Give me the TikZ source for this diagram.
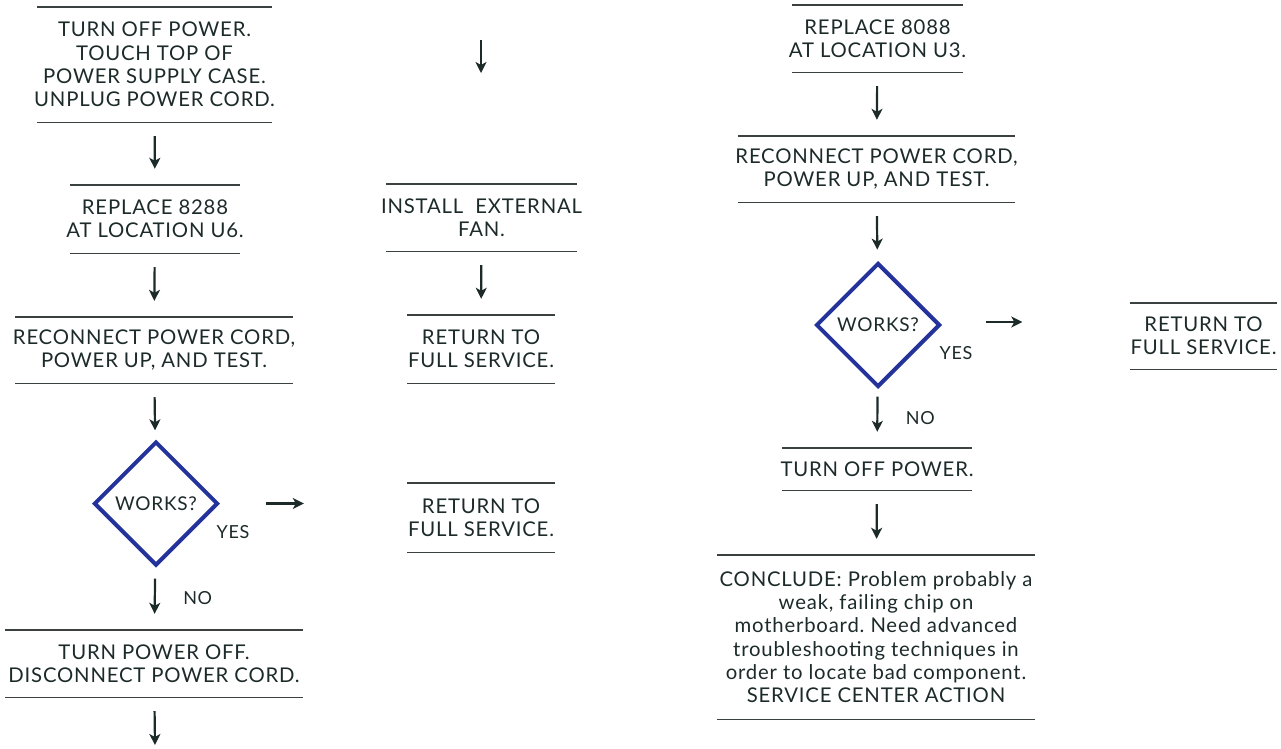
\documentclass[tikz,border=0pt]{standalone}
\usepackage{fontspec}
\setmainfont[LetterSpace=4]{Lato}
\usepackage{tikz}
\usetikzlibrary{arrows.meta,positioning,shapes.geometric}
\definecolor{ink}{HTML}{1C2A29}
\definecolor{rulegray}{HTML}{3B4140}
\definecolor{decblue}{HTML}{24339B}
\frenchspacing

\begin{document}
\begin{tikzpicture}[x=1pt,y=-1pt,>={Stealth[length=11pt,width=11pt,inset=3pt]},
  font=\fontsize{20.3}{23.3}\selectfont,text=ink,
  stepbox/.style={align=center,inner sep=0pt},
  link/.style={->,line width=2.2pt,draw=ink,shorten <=14pt,shorten >=16pt},
  test/.style={diamond,draw=decblue,line width=4pt,minimum width=124pt,
    minimum height=124pt,inner sep=0pt,font=\fontsize{19}{20}\selectfont},
  answer/.style={font=\fontsize{18}{20}\selectfont},
  rule/.style={draw=rulegray,line width=1.4pt}]
  \useasboundingbox (0,0) rectangle (1281,748);
  % Left column: first chip swap.
  \node[stepbox,minimum height=115pt] (off1) at (154.5,64.5)
    {TURN OFF POWER.\\TOUCH TOP OF\\POWER SUPPLY CASE.\\UNPLUG POWER CORD.};
  \node[stepbox,minimum height=68pt] (rep1) at (155,219)
    {REPLACE 8288\\AT LOCATION U6.};
  \node[stepbox,minimum height=66pt] (test1) at (154,350)
    {RECONNECT POWER CORD,\\POWER UP, AND TEST.};
  \node[test] (works1) at (156,503.5) {WORKS?};
  \node[answer] (yes1) at ([xshift=13pt,yshift=-29pt]works1.east) {YES};
  \node[stepbox,minimum height=67pt] (unplug1) at (154,663.5)
    {TURN POWER OFF.\\DISCONNECT POWER CORD.};
  \coordinate (end1) at (155,745);
  % Middle column: cooling fix.
  \coordinate (fanin) at (481,40);
  \coordinate (fanout) at (481,73);
  \node[stepbox,minimum height=67pt] (fan) at (481.5,217.5)
    {INSTALL\ \ EXTERNAL\\FAN.};
  \node[stepbox,minimum height=68pt] (done1) at (481,349)
    {RETURN TO\\FULL SERVICE.};
  \node[stepbox,minimum height=69pt] (done2) at (481,517.5)
    {RETURN TO\\FULL SERVICE.};
  % Right column: processor swap.
  \node[stepbox,minimum height=67pt] (rep2) at (877.5,38.5)
    {REPLACE 8088\\AT LOCATION U3.};
  \node[stepbox,minimum height=66pt] (test2) at (876.5,169)
    {RECONNECT POWER CORD,\\POWER UP, AND TEST.};
  \node[test] (works2) at (878,325) {WORKS?};
  \node[answer] (yes2) at ([xshift=14pt,yshift=-28pt]works2.east) {YES};
  \node[stepbox,minimum height=66pt] (done3) at (1203.5,336)
    {RETURN TO\\FULL SERVICE.};
  \node[stepbox,minimum height=42pt] (off2) at (877,469)
    {TURN OFF POWER.};
  \node[stepbox,minimum height=164pt] (conclude) at (876,637)
    {CONCLUDE: Problem probably a\\weak, failing chip on\\motherboard. Need advanced\\
     troubleshooting techniques in\\order to locate bad component.\\SERVICE CENTER ACTION};
  % Rules above and below each step, with their own lengths.
  \foreach \n/\w in {off1/235,rep1/170,test1/278,unplug1/298,fan/191,done1/148,done2/148,
      rep2/171,test2/277,done3/147,off2/190,conclude/318}
    \draw[rule] ([xshift=-0.5*\w pt]\n.north) -- ([xshift=0.5*\w pt]\n.north)
      ([xshift=-0.5*\w pt]\n.south) -- ([xshift=0.5*\w pt]\n.south);
  % Connectors.
  \draw[link] (off1) -- (rep1);
  \draw[link] (rep1) -- (test1);
  \draw[link,shorten >=10pt] (test1) -- (works1);
  \draw[link,shorten <=12pt] (works1) -- (unplug1) node[midway,right=24pt,answer] {NO};
  \draw[link,shorten >=0pt] (unplug1) -- (end1);
  \draw[link,shorten <=46pt,shorten >=104pt] (works1.east) -- (works1.east -| done2.west);
  \draw[link,shorten <=0pt,shorten >=0pt] (fanin) -- (fanout);
  \draw[link] (fan) -- (done1);
  \draw[link] (rep2) -- (test2);
  \draw[link,shorten >=12pt] (test2) -- (works2);
  \draw[link,shorten <=8pt] (works2) -- (off2) node[midway,right=24pt,answer] {NO};
  \draw[link] (off2) -- (conclude);
  \draw[link,shorten <=44pt,shorten >=108pt] ([yshift=3pt]works2.east) -- ([yshift=3pt]works2.east -| done3.west);
\end{tikzpicture}
\end{document}
